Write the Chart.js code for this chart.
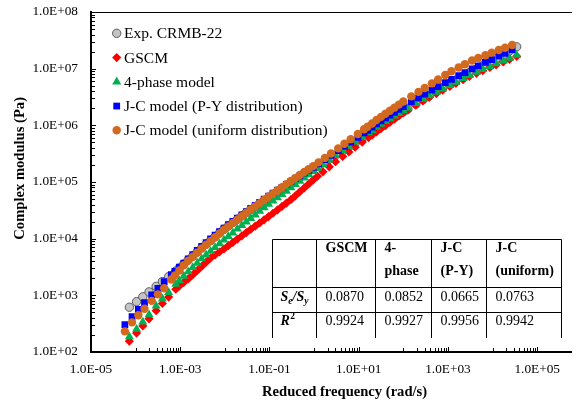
<!DOCTYPE html>
<html>
<head>
<meta charset="utf-8">
<script src="https://cdn.jsdelivr.net/npm/chart.js@4.4.1/dist/chart.umd.min.js"></script>
<style>
    html, body { margin: 0; padding: 0; background: #fff; }
</style>
</head>
<body>
<canvas id="chart_modulus" width="577" height="403"></canvas>
<script>
// reduced frequency (rad/s) - experiment, GSCM and 4-phase share this grid
const freqExp = [7.24e-5, 1.05e-4, 1.45e-4, 2.00e-4, 2.88e-4, 3.98e-4, 5.50e-4, 7.94e-4,
    9.55e-4, 1.20e-3, 1.51e-3, 1.91e-3, 2.40e-3, 3.02e-3, 3.80e-3, 4.79e-3, 6.03e-3, 7.59e-3, 9.55e-3,
    1.20e-2, 1.51e-2, 1.91e-2, 2.40e-2, 3.02e-2, 3.80e-2, 4.79e-2, 6.03e-2, 7.59e-2, 9.55e-2,
    0.120, 0.151, 0.191, 0.240, 0.302, 0.380, 0.479, 0.603, 0.759, 0.955, 1.20,
    1.58, 2.19, 3.02, 4.37, 6.03, 8.32, 12.0, 16.6,
    20.0, 25.1, 31.6, 39.8, 50.1, 63.1, 79.4, 100, 126,
    190, 275, 380, 550, 759, 1100, 1510, 2190, 3020, 4370, 6030, 8710, 12000, 17400, 24000, 34700];

// J-C model points sit a little to the left
const freqJC = [5.75e-5, 8.32e-5, 1.15e-4, 1.58e-4, 2.29e-4, 3.16e-4, 4.37e-4, 6.31e-4,
    7.59e-4, 9.55e-4, 1.20e-3, 1.51e-3, 1.91e-3, 2.40e-3, 3.02e-3, 3.80e-3, 4.79e-3, 6.03e-3, 7.59e-3,
    9.55e-3, 1.20e-2, 1.51e-2, 1.91e-2, 2.40e-2, 3.02e-2, 3.80e-2, 4.79e-2, 6.03e-2, 7.59e-2,
    9.55e-2, 0.120, 0.151, 0.191, 0.240, 0.302, 0.380, 0.479, 0.603, 0.759, 0.955,
    1.26, 1.74, 2.40, 3.47, 4.79, 6.61, 9.55, 13.2,
    15.8, 20.0, 25.1, 31.6, 39.8, 50.1, 63.1, 79.4, 100,
    151, 219, 302, 437, 603, 871, 1200, 1740, 2400, 3470, 4790, 6920, 9550, 13800, 19100, 27500];

// complex modulus (Pa)
const modExp = [617, 773, 942, 1150, 1440, 1750, 2130, 2680,
    3030, 3560, 4200, 4940, 5820, 6860, 8000, 9310, 10800, 12600, 14700,
    16800, 19200, 22000, 25100, 28700, 32600, 36900, 41800, 47300, 53600,
    60500, 68200, 76900, 86700, 97700, 109000, 122000, 136000, 152000, 170000, 190000,
    2.17e5, 2.53e5, 2.95e5, 3.55e5, 4.17e5, 4.90e5, 5.92e5, 6.98e5,
    7.69e5, 8.67e5, 9.77e5, 1.10e6, 1.23e6, 1.38e6, 1.55e6, 1.74e6, 1.94e6,
    2.37e6, 2.83e6, 3.30e6, 3.94e6, 4.59e6, 5.47e6, 6.30e6, 7.41e6, 8.53e6, 9.91e6, 1.13e7, 1.31e7, 1.50e7, 1.77e7, 2.06e7, 2.43e7];

const modGSCM = [155, 216, 288, 385, 537, 718, 933, 1280,
    1460, 1690, 1950, 2300, 2720, 3240, 3840, 4550, 5150, 5820, 6590,
    7520, 8590, 9820, 11200, 12800, 14600, 16600, 18900, 21500, 24500,
    28100, 32200, 37000, 42500, 48800, 57000, 67000, 78700, 92500, 108600, 126200,
    1.51e5, 1.85e5, 2.28e5, 2.83e5, 3.40e5, 4.11e5, 5.07e5, 6.07e5,
    6.73e5, 7.66e5, 8.71e5, 9.91e5, 1.13e6, 1.28e6, 1.46e6, 1.66e6, 1.85e6,
    2.26e6, 2.70e6, 3.12e6, 3.64e6, 4.17e6, 4.85e6, 5.52e6, 6.40e6, 7.28e6, 8.28e6, 9.23e6, 1.05e7, 1.16e7, 1.31e7, 1.46e7, 1.65e7];

const mod4Phase = [186, 253, 339, 455, 650, 869, 1130, 1570,
    1820, 2190, 2610, 3110, 3710, 4420, 5160, 6010, 7000, 8150, 9480,
    11000, 12700, 14800, 17100, 19800, 22900, 26400, 30500, 35200, 40600,
    46300, 53000, 60500, 69200, 79100, 90400, 103300, 118000, 134900, 154200, 175800,
    2.05e5, 2.46e5, 2.94e5, 3.60e5, 4.28e5, 5.09e5, 6.21e5, 7.40e5,
    8.17e5, 9.25e5, 1.05e6, 1.17e6, 1.31e6, 1.46e6, 1.63e6, 1.82e6, 2.02e6,
    2.45e6, 2.90e6, 3.33e6, 3.86e6, 4.39e6, 5.08e6, 5.78e6, 6.70e6, 7.62e6, 8.67e6, 9.66e6, 1.10e7, 1.22e7, 1.37e7, 1.53e7, 1.73e7];

const modJCPY = [304, 422, 565, 743, 1020, 1330, 1740, 2310,
    2640, 3130, 3710, 4400, 5210, 6180, 7330, 8530, 9890, 11500, 13300,
    15400, 17600, 20100, 23000, 26300, 30100, 34100, 38600, 43800, 49600,
    56100, 63400, 71500, 80500, 90800, 102300, 114800, 128800, 144500, 162200, 182000,
    2.10e5, 2.48e5, 2.94e5, 3.57e5, 4.24e5, 5.05e5, 6.15e5, 7.36e5,
    8.17e5, 9.29e5, 1.06e6, 1.20e6, 1.35e6, 1.51e6, 1.70e6, 1.91e6, 2.14e6,
    2.59e6, 3.06e6, 3.56e6, 4.19e6, 4.82e6, 5.68e6, 6.49e6, 7.52e6, 8.55e6, 9.89e6, 1.12e7, 1.29e7, 1.45e7, 1.66e7, 1.87e7, 2.14e7];

const modJCUniform = [231, 333, 446, 581, 798, 1040, 1330, 1900,
    2240, 2740, 3390, 4070, 4810, 5680, 6700, 7820, 9100, 10600, 12300,
    14400, 16500, 19000, 21800, 25000, 28700, 32700, 37200, 42400, 48200,
    54800, 62400, 71000, 80700, 91800, 104500, 118000, 133000, 150000, 169000, 190500,
    2.22e5, 2.66e5, 3.18e5, 3.92e5, 4.72e5, 5.70e5, 7.05e5, 8.51e5,
    9.46e5, 1.08e6, 1.24e6, 1.41e6, 1.60e6, 1.81e6, 2.05e6, 2.32e6, 2.63e6,
    3.24e6, 3.89e6, 4.57e6, 5.50e6, 6.46e6, 7.76e6, 9.00e6, 1.05e7, 1.20e7, 1.39e7, 1.54e7, 1.73e7, 1.92e7, 2.14e7, 2.34e7, 2.61e7];

const seriesLabels = ['Exp. CRMB-22', 'GSCM', '4-phase model', 'J-C model (P-Y distribution)', 'J-C model (uniform distribution)'];

const xTickValues = [1e-5, 1e-3, 1e-1, 1e1, 1e3, 1e5];
const xTickLabels = ['1.0E-05', '1.0E-03', '1.0E-01', '1.0E+01', '1.0E+03', '1.0E+05'];
const yTickValues = [1e2, 1e3, 1e4, 1e5, 1e6, 1e7, 1e8];
const yTickLabels = ['1.0E+02', '1.0E+03', '1.0E+04', '1.0E+05', '1.0E+06', '1.0E+07', '1.0E+08'];

// fit table
const tableHead = [['GSCM'], ['4-', 'phase'], ['J-C', '(P-Y)'], ['J-C', '(uniform)']];
const tableSeSy = ['0.0870', '0.0852', '0.0665', '0.0763'];
const tableR2 = ['0.9924', '0.9927', '0.9956', '0.9942'];

const serif = '"Liberation Serif", "Times New Roman", serif';

function points(xs, ys) {
    return xs.map((x, i) => ({ x: x, y: ys[i] }));
}

const decorations = {
    id: 'decorations',
    afterDraw(chart) {
        const ctx = chart.ctx;
        const area = chart.chartArea;
        const xs = chart.scales.x;
        const ys = chart.scales.y;
        ctx.save();

        // thin frame line on top
        ctx.strokeStyle = '#000';
        ctx.lineWidth = 1;
        ctx.beginPath();
        ctx.moveTo(area.left, area.top + 0.5);
        ctx.lineTo(area.right, area.top + 0.5);
        ctx.stroke();

        // inside tick marks, x axis (minor ticks at k * 10^(n+1))
        ctx.beginPath();
        xTickValues.forEach(v => {
            let px = Math.round(xs.getPixelForValue(v)) + 0.5;
            ctx.moveTo(px, area.bottom - 1);
            ctx.lineTo(px, area.bottom - 5);
            for (let k = 1; k <= 9; k++) {
                const m = v * 10 * k;
                if (m >= xs.max) break;
                px = Math.round(xs.getPixelForValue(m)) + 0.5;
                ctx.moveTo(px, area.bottom - 1);
                ctx.lineTo(px, area.bottom - 4);
            }
        });
        // y axis
        yTickValues.forEach((v, i) => {
            let py = Math.round(ys.getPixelForValue(v)) + 0.5;
            ctx.moveTo(area.left + 1, py);
            ctx.lineTo(area.left + 5, py);
            if (i === yTickValues.length - 1) return;
            for (let k = 2; k <= 9; k++) {
                py = Math.round(ys.getPixelForValue(v * k)) + 0.5;
                ctx.moveTo(area.left + 1, py);
                ctx.lineTo(area.left + 4, py);
            }
        });
        ctx.stroke();

        // axis titles
        ctx.fillStyle = '#000';
        ctx.font = 'bold 14.6px ' + serif;
        ctx.textAlign = 'left';
        ctx.textBaseline = 'alphabetic';
        ctx.fillText('Reduced frequency (rad/s)', 262, 395.7);
        ctx.save();
        ctx.translate(24, 97);
        ctx.rotate(-Math.PI / 2);
        ctx.textAlign = 'right';
        ctx.fillText('Complex modulus (Pa)', 0, 0);
        ctx.restore();

        // legend inside the plot
        ctx.font = '15.5px ' + serif;
        ctx.textAlign = 'left';
        chart.data.datasets.forEach((ds, i) => {
            const y = 33.3 + i * 24.25;
            ctx.fillStyle = ds.backgroundColor;
            ctx.strokeStyle = ds.borderColor;
            ctx.lineWidth = ds.borderWidth;
            Chart.helpers.drawPoint(ctx, { pointStyle: ds.pointStyle, radius: ds.pointRadius, borderWidth: ds.borderWidth, rotation: 0 }, 116.7, y);
            ctx.fillStyle = '#000';
            ctx.fillText(ds.label, 124, y + 5);
        });

        // table
        const cols = [272.5, 316.5, 375.5, 431.5, 486.5, 561.5];
        const rows = [239.5, 287.5, 312.5];
        const bottom = 338;
        ctx.fillStyle = '#fff';
        ctx.fillRect(cols[0], rows[0], cols[5] - cols[0], bottom - rows[0]);
        ctx.strokeStyle = '#000';
        ctx.lineWidth = 1;
        ctx.beginPath();
        rows.forEach(r => { ctx.moveTo(cols[0], r); ctx.lineTo(cols[5], r); });
        cols.forEach(c => { ctx.moveTo(c, rows[0]); ctx.lineTo(c, bottom); });
        ctx.stroke();

        ctx.fillStyle = '#000';
        ctx.font = 'bold 14px ' + serif;
        tableHead.forEach((lines, c) => {
            lines.forEach((t, j) => ctx.fillText(t, cols[c + 1] + 9, 252.3 + j * 23));
        });
        ctx.font = '14px ' + serif;
        tableSeSy.forEach((t, c) => ctx.fillText(t, cols[c + 1] + 9, 301));
        tableR2.forEach((t, c) => ctx.fillText(t, cols[c + 1] + 9, 325));

        // row labels with sub/superscripts
        let x = cols[0] + 8;
        const big = 'italic bold 14px ' + serif;
        const small = 'italic bold 9.5px ' + serif;
        [['S', 0, big], ['e', 3, small], ['/S', 0, big], ['y', 3, small]].forEach(p => {
            ctx.font = p[2];
            ctx.fillText(p[0], x, 301 + p[1]);
            x += ctx.measureText(p[0]).width;
        });
        x = cols[0] + 8;
        ctx.font = big;
        ctx.fillText('R', x, 325);
        x += ctx.measureText('R').width + 0.5;
        ctx.font = 'bold 9.5px ' + serif;
        ctx.fillText('2', x, 319);

        ctx.restore();
    }
};

new Chart(document.getElementById('chart_modulus'), {
    type: 'scatter',
    data: {
        datasets: [
            { label: seriesLabels[0], data: points(freqExp, modExp), pointStyle: 'circle', pointRadius: 4.2, backgroundColor: '#c4c4c4', borderColor: '#5a5a5a', borderWidth: 1, order: 4 },
            { label: seriesLabels[1], data: points(freqExp, modGSCM), pointStyle: 'rectRot', pointRadius: 4.6, backgroundColor: '#ff0000', borderColor: '#ff0000', borderWidth: 0, order: 3 },
            { label: seriesLabels[2], data: points(freqExp, mod4Phase), pointStyle: 'triangle', pointRadius: 5.2, backgroundColor: '#00b050', borderColor: '#00b050', borderWidth: 0, order: 2 },
            { label: seriesLabels[3], data: points(freqJC, modJCPY), pointStyle: 'rect', pointRadius: 4.8, backgroundColor: '#0000ff', borderColor: '#0000ff', borderWidth: 0, order: 1 },
            { label: seriesLabels[4], data: points(freqJC, modJCUniform), pointStyle: 'circle', pointRadius: 4.2, backgroundColor: '#d2691e', borderColor: '#d2691e', borderWidth: 0, order: 0 }
        ]
    },
    options: {
        responsive: false,
        animation: false,
        devicePixelRatio: 1,
        layout: { padding: { top: 12, right: 0, bottom: 0, left: 0 } },
        elements: { point: { hoverRadius: 4 } },
        scales: {
            x: {
                type: 'logarithmic',
                min: 1e-5,
                max: 5.97e5,
                bounds: 'data',
                grid: { display: true, drawOnChartArea: false, drawTicks: false },
                border: { display: true, color: '#000', width: 2 },
                afterBuildTicks: scale => { scale.ticks = xTickValues.map(v => ({ value: v })); },
                afterFit: scale => { scale.height = 51; scale.paddingLeft = 0; scale.paddingRight = 0; },
                ticks: {
                    autoSkip: false,
                    maxRotation: 0,
                    padding: 10,
                    color: '#000',
                    font: { family: serif, size: 13.3 },
                    callback: (value, index) => xTickLabels[index]
                }
            },
            y: {
                type: 'logarithmic',
                min: 1e2,
                max: 1e8,
                bounds: 'data',
                grid: { display: true, drawOnChartArea: false, drawTicks: false },
                border: { display: true, color: '#000', width: 2 },
                afterBuildTicks: scale => { scale.ticks = yTickValues.map(v => ({ value: v })); },
                afterFit: scale => { scale.width = 91; scale.paddingTop = 0; scale.paddingBottom = 0; },
                ticks: {
                    autoSkip: false,
                    padding: 13,
                    color: '#000',
                    font: { family: serif, size: 13.3 },
                    callback: (value, index) => yTickLabels[index]
                }
            }
        },
        plugins: {
            legend: { display: false },
            tooltip: { enabled: false }
        }
    },
    plugins: [decorations]
});
</script>
</body>
</html>
